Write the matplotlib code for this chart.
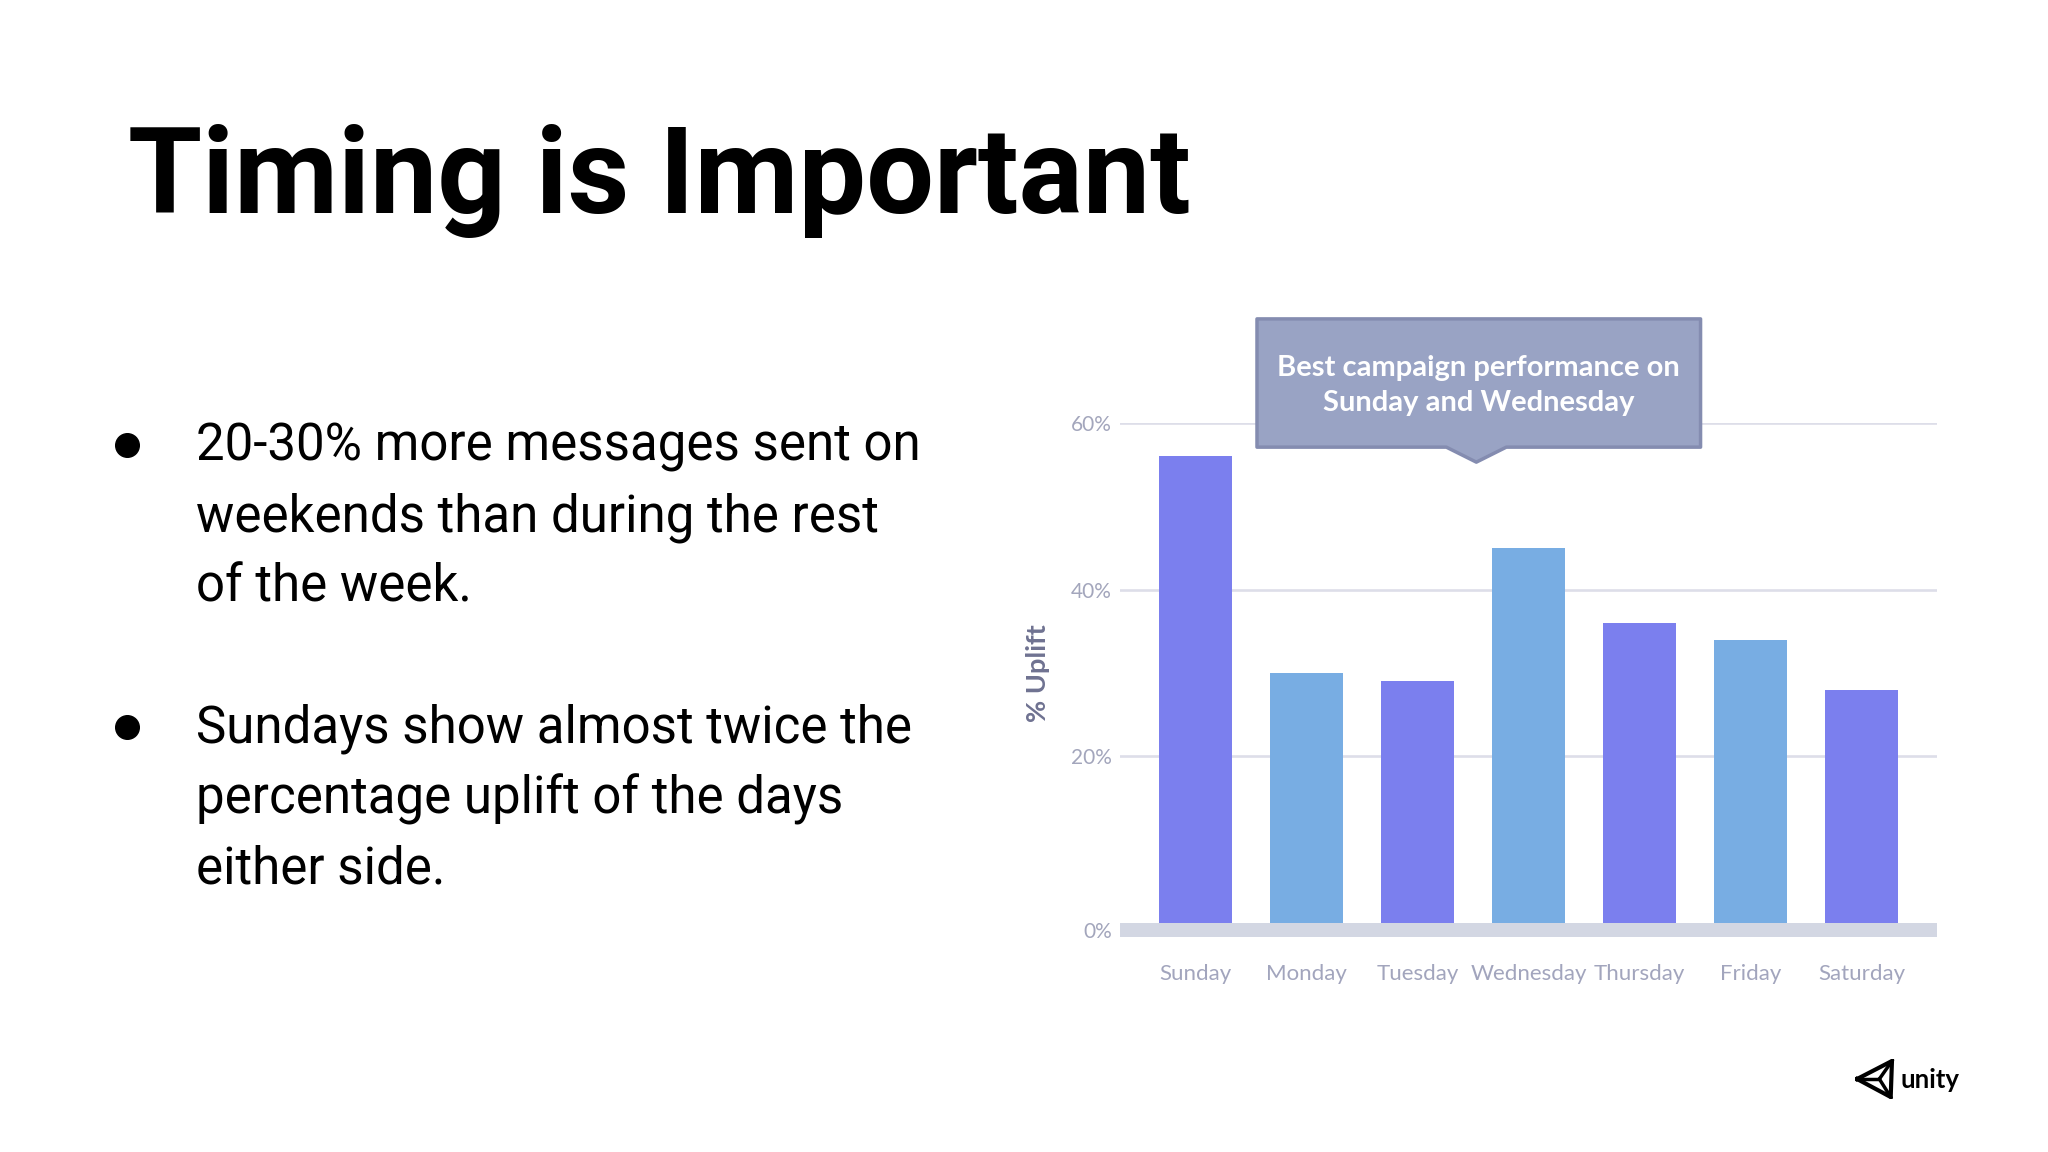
import matplotlib.pyplot as plt
from matplotlib.lines import Line2D
from matplotlib.patches import Polygon, Rectangle
from matplotlib.transforms import ScaledTranslation

# Chart data
days = ["Sunday", "Monday", "Tuesday", "Wednesday", "Thursday", "Friday", "Saturday"]
uplift = [56, 30, 29, 45, 36, 34, 28]
bar_colors = ["#7B7FEE", "#78ADE3", "#7B7FEE", "#78ADE3", "#7B7FEE", "#78ADE3", "#7B7FEE"]
y_ticks = [0, 20, 40, 60]
y_tick_labels = ["0%", "20%", "40%", "60%"]

# Slide text
title = "Timing is Important"
bullet_1 = ["20-30% more messages sent on", "weekends than during the rest", "of the week."]
bullet_2 = ["Sundays show almost twice the", "percentage uplift of the days", "either side."]
callout_lines = ["Best campaign performance on", "Sunday and Wednesday"]

W, H = 2048, 1152
fig = plt.figure(figsize=(W / 100, H / 100), dpi=100)
fig.patch.set_facecolor("white")


def fx(x):
    return x / W


def fy(y):
    return 1 - y / H


# Title
fig.text(fx(128), fy(213), title, fontsize=86.5, fontweight="bold",
         family="Roboto", color="black", va="baseline", ha="left")

# Bullets
line_step = 70.5
for bullet, first_base in [(bullet_1, 461), (bullet_2, 743)]:
    fig.add_artist(Line2D([fx(127)], [fy(first_base - 16)], marker="o", markersize=17,
                          color="black", transform=fig.transFigure))
    for i, line in enumerate(bullet):
        fig.text(fx(196), fy(first_base + i * line_step), line, fontsize=36.7,
                 family="Roboto", color="black", va="baseline", ha="left")

# Bar chart
ax = fig.add_axes([fx(1120), fy(922.7), 817 / W, 499.7 / H])
x = list(range(len(days)))
ax.bar(x, uplift, width=0.66, color=bar_colors, zorder=3)
ax.set_xlim(-0.68, len(days) - 1 + 0.68)
ax.set_ylim(0, 60)

for y in y_ticks[1:]:
    ax.axhline(y, color="#DDDEE9", lw=1.9, zorder=1)
ax.add_patch(Rectangle((-0.68, -1.7), len(days) - 1 + 1.36, 1.7, color="#D3D7E3",
                       clip_on=False, zorder=2, lw=0))

for s in ax.spines.values():
    s.set_visible(False)
ax.set_yticks(y_ticks, y_tick_labels)
ax.set_xticks(x, days)
ax.tick_params(axis="y", length=0, pad=6, labelsize=15, labelcolor="#A3A6BC")
ax.tick_params(axis="x", length=0, pad=30, labelsize=16, labelcolor="#A2A5BD")
for lab in ax.get_xticklabels() + ax.get_yticklabels():
    lab.set_family("Lato")
# the 0% label sits on the middle of the base band
zero_lab = ax.yaxis.get_major_ticks()[0].label1
zero_lab.set_transform(zero_lab.get_transform()
                       + ScaledTranslation(0, -5 / 72, fig.dpi_scale_trans))

ax.set_ylabel("% Uplift", fontsize=19.5, fontweight="bold", color="#6F7291", family="Lato")
ax.yaxis.set_label_coords(-0.086, 0.5)

# Callout box with pointer
left, right, top, bottom = 0.554, 4.55, 72.5, 57.1
tip_x, tip_y, half = 2.53, 55.3, 0.27
callout = Polygon([(left, bottom), (left, top), (right, top), (right, bottom),
                   (tip_x + half, bottom), (tip_x, tip_y), (tip_x - half, bottom)],
                  closed=True, facecolor="#99A3C4", edgecolor="#848CB0", lw=2.5,
                  joinstyle="round", clip_on=False, zorder=5)
ax.add_patch(callout)
ax.text((left + right) / 2, (top + bottom) / 2 - 0.3, "\n".join(callout_lines),
        ha="center", va="center", color="white", fontsize=21, fontweight="bold",
        family="Lato", linespacing=1.42, zorder=6)

# Unity logo
logo = fig.add_axes([fx(1855), fy(1099), 42 / W, 40 / H])
logo.set_xlim(0, 1)
logo.set_ylim(0, 1)
logo.axis("off")
outer = [(0.05, 0.5), (0.88, 0.95), (0.85, 0.05), (0.05, 0.5)]
logo.plot([p[0] for p in outer], [p[1] for p in outer], color="black", lw=3,
          solid_joinstyle="miter")
for px_, py_ in outer[:3]:
    logo.plot([0.58, px_], [0.5, py_], color="black", lw=2.5)
fig.text(fx(1900), fy(1088), "unity", fontsize=18.5, fontweight="bold", family="Lato",
         color="black", va="baseline", ha="left")

fig.savefig("out.png", dpi=100, facecolor="white")
